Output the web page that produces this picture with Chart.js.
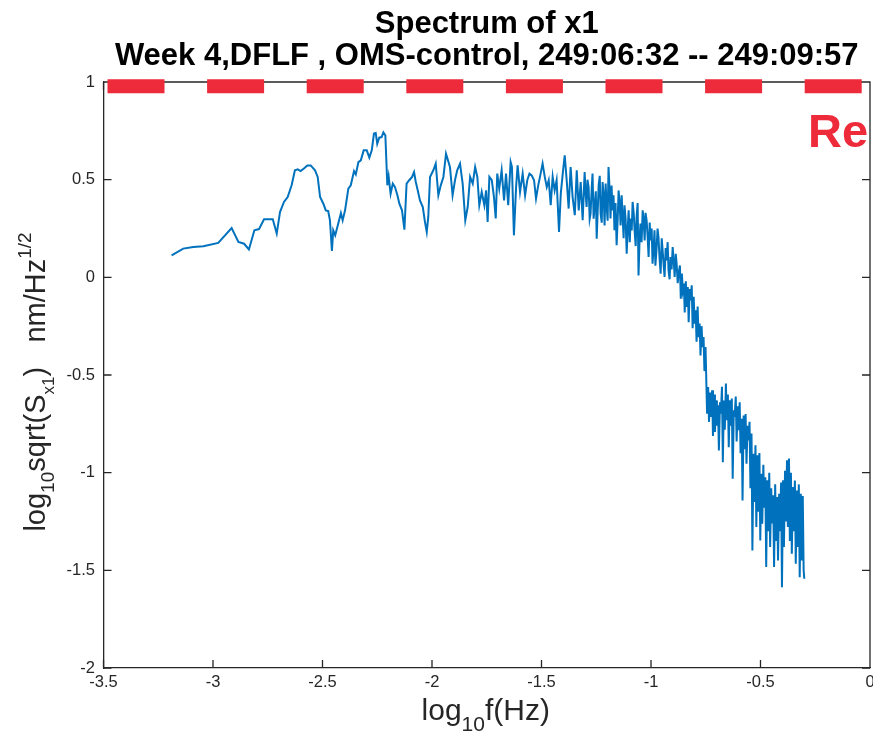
<!DOCTYPE html>
<html><head><meta charset="utf-8">
<script src="https://cdn.jsdelivr.net/npm/chart.js@4/dist/chart.umd.min.js"></script>
<style>html,body{margin:0;padding:0;background:#fff;}canvas{display:block}</style>
</head><body>
<canvas id="c" width="873" height="737"></canvas>
<script>
const titleLines = ['Spectrum of x1', 'Week 4,DFLF , OMS-control, 249:06:32 -- 249:09:57'];
const xTickValues = [-3.5, -3, -2.5, -2, -1.5, -1, -0.5, 0];
const yTickValues = [-2, -1.5, -1, -0.5, 0, 0.5, 1];
const reqText = 'Re';
const reqLogFreq = [-3.5, 0];
const reqLogAmp = [0.978, 0.978];

const logFreq = [
-3.189,-3.136,-3.090,-3.044,-2.976,-2.915,-2.884,-2.858,-2.836,-2.811,-2.790,-2.767,-2.727,-2.709,-2.694,-2.676,-2.659,-2.641,-2.626,-2.613,
-2.600,-2.585,-2.569,-2.554,-2.534,-2.522,-2.511,-2.496,-2.485,-2.474,-2.466,-2.457,-2.451,-2.442,-2.428,-2.416,-2.408,-2.397,-2.382,-2.371,
-2.356,-2.348,-2.336,-2.325,-2.312,-2.298,-2.286,-2.275,-2.265,-2.257,-2.250,-2.241,-2.230,-2.222,-2.213,-2.204,-2.198,-2.189,-2.179,-2.169,
-2.158,-2.149,-2.137,-2.126,-2.116,-2.104,-2.091,-2.082,-2.074,-2.065,-2.055,-2.042,-2.032,-2.024,-2.017,-2.009,-1.994,-1.983,-1.971,-1.960,
-1.948,-1.936,
-1.918,-1.906,-1.895,-1.885,-1.872,-1.860,-1.848,-1.837,-1.826,-1.814,-1.803,-1.793,-1.784,-1.773,-1.761,-1.753,-1.746,-1.738,-1.727,-1.717,
-1.709,-1.702,-1.693,-1.682,-1.671,-1.662,-1.652,-1.641,-1.635,-1.626,-1.616,-1.609,-1.598,-1.586,-1.575,-1.565,-1.555,-1.545,-1.534,-1.525,
-1.515,-1.504,-1.495,-1.485,-1.476,-1.467,-1.458,-1.449,-1.440,-1.431,-1.420,-1.412,-1.403,-1.394,-1.385,-1.376,-1.367,-1.358,-1.348,-1.339,
-1.330,-1.321,-1.312,
-1.303,-1.298,-1.294,-1.290,-1.285,-1.280,-1.276,-1.271,-1.267,-1.262,-1.257,-1.252,-1.248,-1.243,-1.239,-1.234,-1.230,-1.225,-1.221,-1.216,
-1.212,-1.207,-1.203,-1.198,-1.194,-1.189,-1.185,-1.180,-1.176,-1.171,-1.167,-1.162,-1.157,-1.152,-1.148,-1.143,-1.139,-1.134,-1.130,-1.125,
-1.121,-1.116,-1.111,-1.106,-1.102,-1.097,-1.093,-1.088,-1.084,-1.079,-1.075,-1.070,-1.066,-1.061,-1.057,-1.052,-1.048,-1.043,-1.038,-1.034,
-1.029,-1.025,-1.020,-1.015,-1.011,-1.006,-1.002,-0.997,-0.993,-0.988,-0.984,-0.980,-0.975,-0.970,-0.966,-0.961,-0.956,-0.951,-0.947,-0.942,
-0.938,-0.933,-0.929,-0.924,-0.920,-0.915,-0.911,-0.906,-0.901,-0.896,-0.892,-0.887,-0.883,-0.878,-0.874,
-0.868,-0.864,-0.859,-0.855,-0.850,-0.846,-0.841,-0.837,-0.832,-0.828,-0.823,-0.819,-0.814,-0.810,-0.805,-0.801,-0.796,-0.792,-0.787,-0.783,
-0.778,-0.774,-0.769,-0.765,-0.760,-0.756,-0.751,
-0.744,-0.739,-0.735,-0.730,-0.726,-0.721,-0.717,-0.712,-0.708,-0.703,-0.699,-0.694,-0.690,-0.685,-0.681,-0.676,-0.672,-0.667,-0.663,-0.658,
-0.654,-0.649,-0.645,-0.640,-0.636,-0.631,-0.627,-0.622,-0.618,-0.613,-0.609,-0.604,-0.600,-0.595,-0.591,-0.586,-0.582,-0.577,-0.573,-0.568,
-0.564,-0.559,-0.555,-0.550,-0.546,-0.541,-0.537,-0.532,-0.528,-0.523,-0.519,-0.514,-0.510,-0.505,-0.501,-0.496,-0.492,-0.487,-0.483,-0.478,
-0.474,-0.469,-0.465,-0.460,-0.456,-0.451,-0.447,-0.442,-0.438,-0.433,-0.429,-0.424,-0.420,-0.415,-0.411,-0.406,-0.402,-0.397,-0.393,-0.388,
-0.384,-0.379,-0.375,-0.370,-0.366,-0.361,-0.357,-0.352,-0.348,-0.343,-0.339,-0.334,-0.330,-0.325,-0.321,-0.316,-0.312,-0.307,-0.303,-0.300
];
const logAmp = [
0.113,0.147,0.155,0.159,0.176,0.252,0.181,0.172,0.143,0.241,0.247,0.297,0.297,0.224,0.334,0.386,0.411,0.471,0.548,0.553,
0.544,0.557,0.573,0.573,0.548,0.514,0.411,0.377,0.343,0.339,0.292,0.135,0.241,0.215,0.275,0.329,0.292,0.343,0.454,0.471,
0.544,0.527,0.590,0.599,0.650,0.650,0.613,0.650,0.736,0.739,0.684,0.715,0.718,0.742,0.727,0.471,0.517,0.428,0.480,0.462,
0.420,0.377,0.343,0.244,0.480,0.497,0.514,0.539,0.488,0.445,0.394,0.360,0.283,0.232,0.309,0.514,0.548,0.582,0.420,0.471,
0.514,0.633,
0.565,0.420,0.497,0.548,0.582,0.480,0.292,0.360,0.514,0.480,0.565,0.514,0.369,0.437,0.369,0.445,0.283,0.514,0.497,0.411,
0.301,0.531,0.454,0.548,0.394,0.531,0.369,0.590,0.565,0.215,0.462,0.573,0.437,0.531,0.420,0.497,0.531,0.522,0.497,0.403,
0.471,0.531,0.582,0.514,0.462,0.497,0.369,0.514,0.445,0.497,0.232,0.428,0.531,0.625,0.497,0.352,0.565,0.411,0.318,0.548,
0.343,0.488,0.292,
0.539,0.420,0.360,0.500,0.462,0.300,0.326,0.450,0.531,0.300,0.369,0.440,0.198,0.350,0.471,0.520,0.326,0.280,0.488,0.420,
0.266,0.480,0.369,0.290,0.565,0.450,0.301,0.470,0.343,0.420,0.241,0.380,0.164,0.300,0.445,0.380,0.266,0.420,0.318,0.200,
0.369,0.300,0.121,0.260,0.343,0.180,0.301,0.240,0.386,0.330,0.241,0.160,0.309,0.380,0.010,0.200,0.275,0.180,0.343,0.300,
0.189,0.330,0.292,0.200,0.104,0.280,0.189,0.250,0.070,0.150,0.241,0.060,0.138,0.250,0.206,0.100,0.019,0.200,0.138,0.060,
0.002,0.150,0.087,0.180,0.036,-0.010,0.104,0.040,0.155,0.080,0.002,0.120,0.070,-0.030,0.019,
0.061,-0.110,0.020,-0.067,-0.032,-0.180,-0.020,-0.152,-0.050,-0.230,-0.060,-0.118,-0.041,-0.260,-0.100,-0.237,-0.169,-0.330,-0.150,-0.306,
-0.237,-0.400,-0.250,-0.357,-0.306,-0.480,-0.357,
-0.698,-0.562,-0.740,-0.590,-0.715,-0.578,-0.812,-0.600,-0.792,-0.630,-0.760,-0.655,-0.886,-0.640,-0.698,-0.560,-0.946,-0.630,-0.780,-0.544,
-0.732,-0.600,-0.870,-0.630,-0.760,-0.620,-1.031,-0.680,-0.715,-0.610,-0.840,-0.660,-0.783,-0.640,-0.900,-0.724,-1.142,-0.707,-0.880,-0.700,
-0.954,-0.760,-0.835,-0.740,-1.080,-0.800,-1.398,-0.903,-1.150,-0.860,-1.278,-0.911,-1.200,-0.900,-1.347,-1.005,-1.261,-0.960,-1.180,-1.023,
-1.483,-1.039,-1.300,-1.000,-1.381,-1.080,-1.260,-1.116,-1.483,-1.060,-1.350,-1.125,-1.449,-1.108,-1.300,-1.050,-1.586,-1.039,-1.381,-0.990,
-1.250,-0.937,-1.278,-0.928,-1.350,-1.000,-1.415,-1.074,-1.300,-1.040,-1.466,-1.091,-1.380,-1.060,-1.535,-1.108,-1.450,-1.120,-1.500,-1.543
];

const AXC = '#262626';
const FONT = '"Liberation Sans", Arial, Helvetica, sans-serif';
const RED = '#EE2B3A';
const BLUE = '#0072BD';

function richRun(ctx, segs, cx, baseY) {
  let total = 0;
  segs.forEach(s => { ctx.font = s.font; s.w = ctx.measureText(s.t).width; total += s.w; });
  let x = cx - total / 2;
  ctx.textAlign = 'left';
  ctx.textBaseline = 'alphabetic';
  segs.forEach(s => { ctx.font = s.font; ctx.fillText(s.t, x, baseY + (s.dy || 0)); x += s.w; });
}

const framePlugin = {
  id: 'frame',
  beforeDatasetsDraw(chart) {
    const {ctx, chartArea: a, scales} = chart;
    ctx.save();
    ctx.strokeStyle = AXC;
    ctx.lineWidth = 1.3;
    ctx.beginPath();
    ctx.moveTo(a.left, a.top); ctx.lineTo(a.right, a.top); ctx.lineTo(a.right, a.bottom);
    const tl = 8;
    xTickValues.forEach(v => {
      const px = scales.x.getPixelForValue(v);
      ctx.moveTo(px, a.bottom); ctx.lineTo(px, a.bottom - tl);
      ctx.moveTo(px, a.top); ctx.lineTo(px, a.top + tl);
    });
    yTickValues.forEach(v => {
      const py = scales.y.getPixelForValue(v);
      ctx.moveTo(a.left, py); ctx.lineTo(a.left + tl, py);
      ctx.moveTo(a.right, py); ctx.lineTo(a.right - tl, py);
    });
    ctx.stroke();
    ctx.restore();
  },
  afterDraw(chart) {
    const {ctx, chartArea: a, scales} = chart;
    const cx = (a.left + a.right) / 2;
    ctx.save();
    ctx.fillStyle = '#000';
    ctx.textAlign = 'center';
    ctx.textBaseline = 'alphabetic';
    ctx.font = 'bold 31px ' + FONT;
    ctx.fillText(titleLines[0], cx, 33);
    ctx.fillText(titleLines[1], cx, 65);
    // x label
    ctx.fillStyle = AXC;
    richRun(ctx, [
      {t: 'log', font: '30px ' + FONT},
      {t: '10', font: '21px ' + FONT, dy: 11},
      {t: 'f(Hz)', font: '30px ' + FONT}
    ], cx - 1, 720);
    // y label
    ctx.save();
    ctx.translate(45, (a.top + a.bottom) / 2 + 7);
    ctx.rotate(-Math.PI / 2);
    richRun(ctx, [
      {t: 'log', font: '29px ' + FONT},
      {t: '10', font: '19px ' + FONT, dy: 9},
      {t: 'sqrt(S', font: '29px ' + FONT},
      {t: 'x1', font: '17px ' + FONT, dy: 9},
      {t: ')   nm/Hz', font: '29px ' + FONT},
      {t: '1/2', font: '19px ' + FONT, dy: -14}
    ], 0, 0);
    ctx.restore();
    // red annotation
    ctx.fillStyle = RED;
    ctx.textAlign = 'left';
    ctx.font = 'bold 47px ' + FONT;
    ctx.fillText(reqText, scales.x.getPixelForValue(-0.283), scales.y.getPixelForValue(0.666));
    ctx.restore();
  }
};

function makeChart() {
  new Chart(document.getElementById('c'), {
    type: 'line',
    data: {
      datasets: [
        {
          data: logFreq.map((x, i) => ({x, y: logAmp[i]})),
          borderColor: BLUE, borderWidth: 2, pointRadius: 0, tension: 0, fill: false
        },
        {
          data: reqLogFreq.map((x, i) => ({x, y: reqLogAmp[i]})),
          borderColor: RED, borderWidth: 14, borderDash: [57, 42.6], borderDashOffset: -4,
          borderCapStyle: 'butt', pointRadius: 0, fill: false, clip: false
        }
      ]
    },
    options: {
      responsive: false, animation: false, devicePixelRatio: 1,
      layout: {padding: {left: 43.5, right: 3, top: 82, bottom: 29}},
      plugins: {legend: {display: false}, tooltip: {enabled: false}, title: {display: false}},
      scales: {
        x: {
          type: 'linear', min: -3.5, max: 0,
          afterBuildTicks: s => { s.ticks = xTickValues.map(v => ({value: v})); },
          ticks: {autoSkip: false, maxRotation: 0, padding: 5, color: AXC,
                  font: {family: FONT, size: 16.5}, callback: v => String(v)},
          grid: {display: false, drawTicks: false},
          border: {display: true, color: AXC, width: 1.3},
          afterFit: s => { s.height = 40; s.paddingLeft = 0; s.paddingRight = 0; }
        },
        y: {
          type: 'linear', min: -2, max: 1,
          afterBuildTicks: s => { s.ticks = yTickValues.map(v => ({value: v})); },
          ticks: {autoSkip: false, padding: 8.5, color: AXC,
                  font: {family: FONT, size: 16.5}, callback: v => String(v)},
          grid: {display: false, drawTicks: false},
          border: {display: true, color: AXC, width: 1.3},
          afterFit: s => { s.width = 60; s.paddingTop = 0; s.paddingBottom = 0; }
        }
      }
    },
    plugins: [framePlugin]
  });
}
if (document.fonts && document.fonts.load) {
  Promise.all([document.fonts.load('15px "Liberation Sans"'), document.fonts.load('bold 31px "Liberation Sans"')])
    .then(makeChart, makeChart);
} else { makeChart(); }
</script>
</body></html>
